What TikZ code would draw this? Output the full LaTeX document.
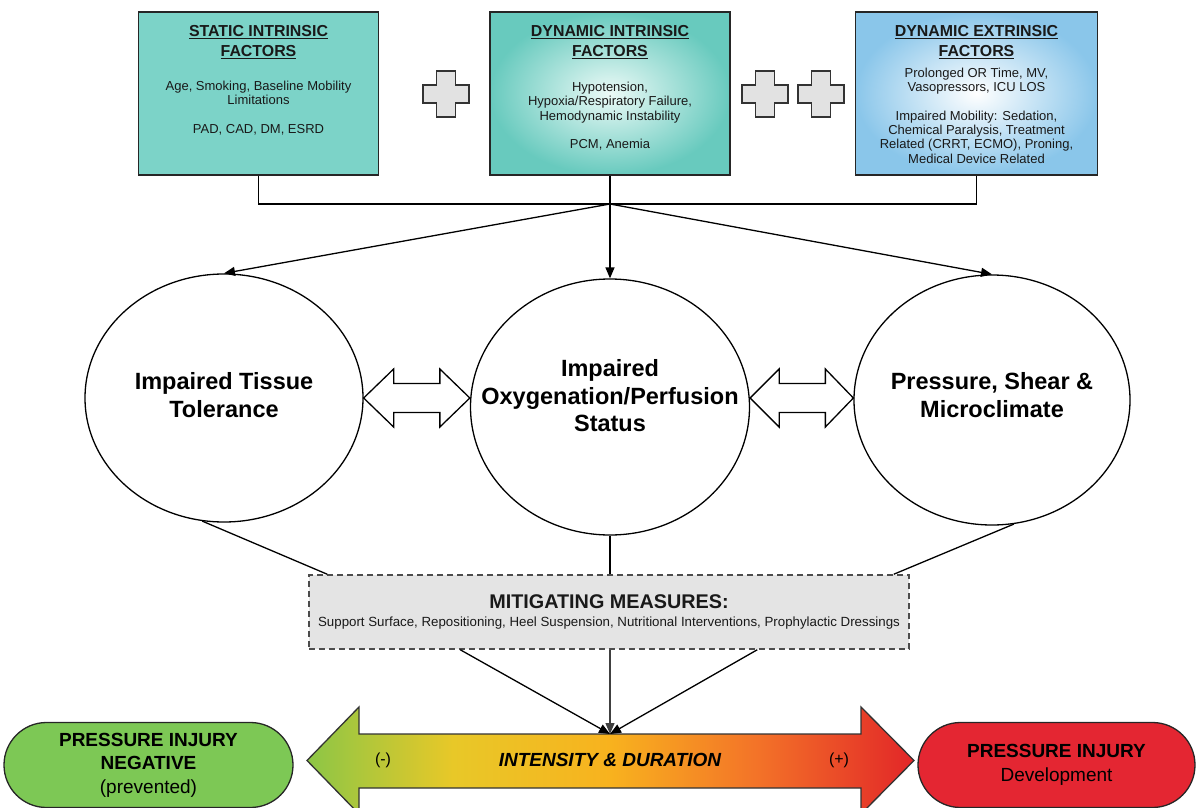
\documentclass[tikz,border=0pt]{standalone}
\usepackage{fontspec}
\setmainfont{Liberation Sans}
\usetikzlibrary{shapes.geometric,shapes.misc,arrows.meta,calc}
\definecolor{teal1}{RGB}{124,211,200}
\definecolor{teal2}{RGB}{104,202,190}
\definecolor{teal3}{RGB}{236,250,247}
\definecolor{blue1}{RGB}{138,198,234}
\definecolor{plusgray}{RGB}{226,226,226}
\definecolor{mitgray}{RGB}{228,228,228}
\definecolor{pgreen}{RGB}{125,200,85}
\definecolor{pred}{RGB}{228,38,50}
\definecolor{ig1}{RGB}{140,198,70}
\definecolor{ig2}{RGB}{232,200,40}
\definecolor{ig3}{RGB}{248,178,30}
\definecolor{ig4}{RGB}{243,115,40}
\definecolor{ig5}{RGB}{226,38,40}
\pgfdeclarehorizontalshading{intens}{100bp}{color(0bp)=(ig1); color(25bp)=(ig1); color(37bp)=(ig2); color(50bp)=(ig3); color(62bp)=(ig4); color(75bp)=(ig5); color(100bp)=(ig5)}
\begin{document}
\begin{tikzpicture}[x=1pt,y=-1pt,
  conn/.style={draw=black, line width=1.3},
  tip/.style={-{Triangle[length=11pt,width=9pt]}},
  fbox/.style={draw=black!85, line width=1.5, minimum width=240, minimum height=163, inner sep=0},
  headtxt/.style={align=center, text=black!90, font={\fontsize{15.9}{20}\selectfont\bfseries}},
  bodytxt/.style={align=center, text=black!90, font={\fontsize{13}{14.3}\selectfont}},
  ell/.style={ellipse, draw=black, line width=1.3, fill=white, inner sep=0},
  elltxt/.style={align=center, font={\fontsize{23.5}{27.5}\selectfont\bfseries}},
  dblarrow/.style={draw=black, line width=1.3, fill=white, line join=miter},
  plusst/.style={draw=black!80, line width=1.5, fill=plusgray},
  plusmark/.pic={\path[plusst] (-9.5,-23) -- (9.5,-23) -- (9.5,-9) -- (23,-9) -- (23,9) -- (9.5,9) -- (9.5,23) -- (-9.5,23) -- (-9.5,9) -- (-23,9) -- (-23,-9) -- (-9.5,-9) -- cycle;},
  mitbox/.style={draw=black!70, line width=1.5, dash pattern=on 6pt off 4pt, fill=mitgray, minimum width=600, minimum height=74, inner sep=0},
  pill/.style={rounded rectangle, draw=black!85, line width=1.3, inner sep=0, align=center, font={\fontsize{19}{23.5}\selectfont}},
]
\useasboundingbox (0,0) rectangle (1200,808);
\clip (0,0) rectangle (1200,808);

% factor boxes
\node[fbox, fill=teal1] (b1) at (258.5,93.5) {};
\node[fbox, inner color=teal3, outer color=teal2] (b2) at (610,93.5) {};
\node[fbox, minimum width=242, inner color=white, outer color=blue1] (b3) at (976.5,93.5) {};

\node[headtxt] at ($(b1.north)+(0,30.5)$) {\underline{STATIC INTRINSIC}\\\underline{FACTORS}};
\node[headtxt] at ($(b2.north)+(0,30.5)$) {\underline{DYNAMIC INTRINSIC}\\\underline{FACTORS}};
\node[headtxt] at ($(b3.north)+(0,30.5)$) {\underline{DYNAMIC EXTRINSIC}\\\underline{FACTORS}};

\node[bodytxt] at ($(b1.north)+(0,97)$) {Age, Smoking, Baseline Mobility\\Limitations\\[14.3pt]PAD, CAD, DM, ESRD};
\node[bodytxt] at ($(b2.north)+(0,105)$) {Hypotension,\\Hypoxia/Respiratory Failure,\\Hemodynamic Instability\\[14.3pt]PCM, Anemia};
\node[bodytxt] at ($(b3.north)+(0,104.5)$) {Prolonged OR Time, MV,\\Vasopressors, ICU LOS\\[14.3pt]Impaired Mobility: Sedation,\\Chemical Paralysis, Treatment\\Related (CRRT, ECMO), Proning,\\Medical Device Related};

\pic at (446,94) {plusmark};
\pic at (765,94) {plusmark};
\pic at (821,94) {plusmark};

% ellipses
\node[ell, minimum width=278, minimum height=248] (L) at (224,398) {};
\node[ell, minimum width=279, minimum height=256] (M) at (610,407) {};
\node[ell, minimum width=276, minimum height=250] (R) at (992,400) {};
\node[elltxt] at ($(L.center)+(0,-3)$) {Impaired Tissue\\Tolerance};
\node[elltxt] at ($(M.center)+(0,-11)$) {Impaired\\Oxygenation/Perfusion\\Status};
\node[elltxt] at ($(R.center)+(0,-5)$) {Pressure, Shear \&\\Microclimate};

% connectors from boxes
\coordinate (j) at (610,204);
\draw[conn] (b1.south) -- (b1.south |- j) -- (b3.south |- j) -- (b3.south);
\draw[conn] (b2.south) -- (j);
\draw[conn, tip] (j) -- (L.north);
\draw[conn, tip] (j) -- (M.north);
\draw[conn, tip] (j) -- (R.north);

% double arrows between ellipses
\coordinate (a1) at (L.east);
\coordinate (a2) at (M.west |- L.east);
\coordinate (a3) at (M.east |- L.east);
\coordinate (a4) at (R.west |- L.east);
\path[dblarrow] (a1) -- ++(30,-29) -- ++(0,14.5) -- ($(a2)+(-30,-14.5)$) -- ++(0,-14.5) -- (a2) -- ++(-30,29) -- ++(0,-14.5) -- ($(a1)+(30,14.5)$) -- ++(0,14.5) -- cycle;
\path[dblarrow] (a3) -- ++(29,-29) -- ++(0,14.5) -- ($(a4)+(-28,-14.5)$) -- ++(0,-14.5) -- (a4) -- ++(-28,29) -- ++(0,-14.5) -- ($(a3)+(29,14.5)$) -- ++(0,14.5) -- cycle;

% mitigating measures
\node[mitbox] (mit) at (609,612) {};
\node[font={\fontsize{19.8}{22}\selectfont\bfseries}, text=black!90] at ($(mit.center)+(0,-10)$) {MITIGATING MEASURES:};
\node[font={\fontsize{13.3}{15}\selectfont}, text=black!90] at ($(mit.center)+(0,11)$) {Support Surface, Repositioning, Heel Suspension, Nutritional Interventions, Prophylactic Dressings};

\draw[conn] (L.260) -- ($(mit.north west)+(19,0)$);
\draw[conn] (M.south) -- (M.south |- mit.north);
\draw[conn] (R.280) -- ($(mit.north east)+(-16,0)$);

% intensity arrow
\coordinate (conv) at (610,734);
\path[shade, shading=intens, draw=black!80, line width=1.3] (307,760.5) -- (359,707) -- (359,734) -- (861,734) -- (861,707) -- (914,760.5) -- (861,814) -- (861,788) -- (359,788) -- (359,814) -- cycle;
\node[font={\fontsize{16}{18}\selectfont}] at (383,760) {(-)};
\node[font={\fontsize{19}{22}\selectfont\bfseries\itshape}] at (610,760) {INTENSITY \& DURATION};
\node[font={\fontsize{16}{18}\selectfont}] at (839,760) {(+)};

\draw[conn, tip] ($(mit.south west)+(152,0)$) -- (conv);
\draw[conn, tip, draw=black!75] (mit.south -| conv) -- (conv);
\draw[conn, tip] ($(mit.south west)+(449,0)$) -- (conv);

% outcome pills
\node[pill, fill=pgreen, minimum width=289, minimum height=85] (neg) at (148.5,765) {\textbf{PRESSURE INJURY}\\\textbf{NEGATIVE}\\(prevented)};
\node[pill, fill=pred, minimum width=277, minimum height=85] (pos) at (1056.5,765) {\textbf{PRESSURE INJURY}\\Development};
\end{tikzpicture}
\end{document}
